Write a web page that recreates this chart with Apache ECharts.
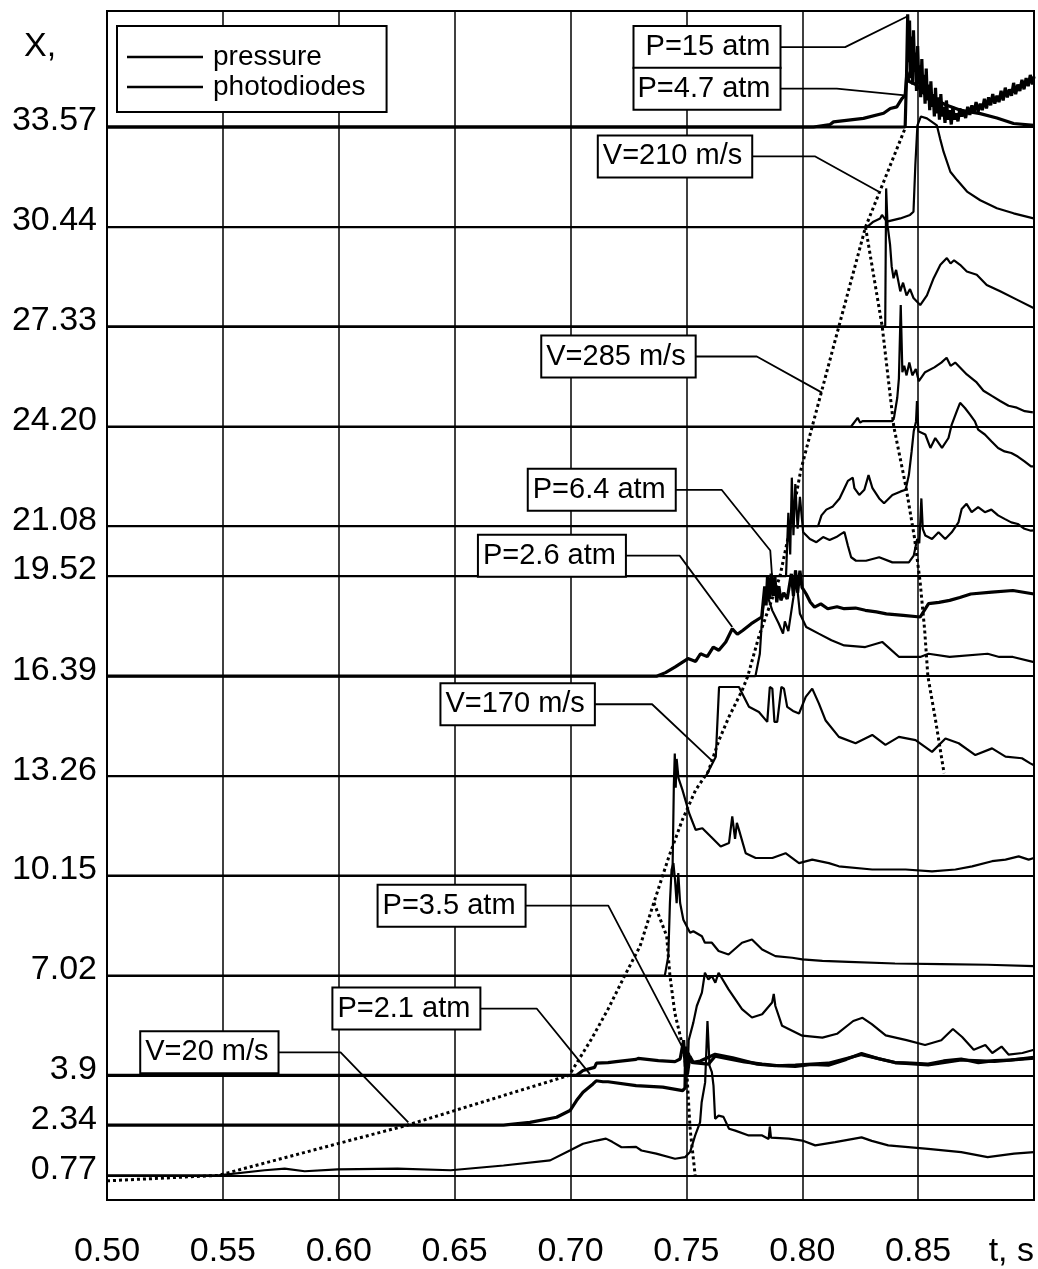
<!DOCTYPE html>
<html>
<head>
<meta charset="utf-8">
<script src="https://cdn.jsdelivr.net/npm/echarts@6/dist/echarts.min.js"></script>
<style>
  html, body { margin: 0; padding: 0; background: #fff; }
  #chart { width: 1038px; height: 1269px; }
</style>
</head>
<body>
<div id="chart"></div>
<script>
const FONT = "'Liberation Sans', Arial, sans-serif";

// sensor positions X (baselines) and their printed labels
const yLevels = [0.77, 2.34, 3.9, 7.02, 10.15, 13.26, 16.39, 19.52, 21.08, 24.20, 27.33, 30.44, 33.57];
const yLevelLabels = ['0.77', '2.34', '3.9', '7.02', '10.15', '13.26', '16.39', '19.52', '21.08', '24.20', '27.33', '30.44', '33.57'];

// pressure traces [t, X]
const p3357a = [[0.50,33.57],[0.8444,33.57],[0.8450,35.2],[0.8455,37.1],[0.8459,35.6],[0.8463,36.9],[0.8467,35.1],[0.8471,36.4],[0.8476,34.9],[0.8480,36.6],[0.8485,35.3],[0.8489,35.9],[0.8493,34.7],[0.8498,36.1],[0.8503,34.9],[0.8507,35.5],[0.8511,34.5],[0.8516,35.7],[0.8521,34.6],[0.8525,35.2],[0.8530,34.3],[0.8535,35.4],[0.8540,34.4],[0.8545,34.9],[0.8550,34.1],[0.8555,35.0],[0.8560,34.2],[0.8565,34.6],[0.8570,33.9],[0.8575,34.8],[0.8580,34.0],[0.8586,34.5],[0.8592,33.8],[0.8598,34.6],[0.8604,33.9],[0.8610,34.2],[0.8616,33.7],[0.8622,34.4],[0.8629,33.8],[0.8636,34.1],[0.8643,33.65],[0.8650,34.2],[0.8657,33.8],[0.8664,34.0],[0.8672,33.75],[0.8680,34.15],[0.8688,33.9],[0.8696,34.05],[0.8705,33.85],[0.8714,34.2],[0.8723,33.95],[0.8732,34.25],[0.8741,34.0],[0.8750,34.35],[0.8759,34.05],[0.8768,34.3],[0.8777,34.1],[0.8786,34.45],[0.8795,34.15],[0.8804,34.5],[0.8813,34.25],[0.8822,34.6],[0.8831,34.3],[0.8840,34.55],[0.8849,34.35],[0.8858,34.7],[0.8867,34.4],[0.8876,34.8],[0.8885,34.5],[0.8894,34.75],[0.8903,34.55],[0.8912,34.95],[0.8921,34.6],[0.8930,34.9],[0.8939,34.7],[0.8948,35.05],[0.8957,34.75],[0.8966,35.1],[0.8975,34.85],[0.8984,35.2],[0.8993,34.9],[0.90,35.15]];
const p3357b = [[0.50,33.57],[0.8048,33.57],[0.8120,33.65],[0.8135,33.73],[0.8264,33.84],[0.8351,34.0],[0.8380,34.15],[0.8408,34.2],[0.8430,34.46],[0.8444,34.56],[0.8452,35.3],[0.8460,35.0],[0.8490,34.9],[0.8530,34.6],[0.8580,34.4],[0.8624,34.25],[0.8680,34.1],[0.8768,33.99],[0.8840,33.85],[0.8912,33.68],[0.90,33.62]];
const p1639 = [[0.50,16.39],[0.7371,16.39],[0.7410,16.5],[0.7452,16.68],[0.7507,16.94],[0.7540,16.85],[0.7561,17.09],[0.7590,17.0],[0.7616,17.30],[0.7640,17.2],[0.7670,17.46],[0.7698,17.87],[0.7720,17.7],[0.7743,17.82],[0.7780,18.03],[0.7825,18.24],[0.7838,19.2],[0.7844,18.6],[0.7850,19.5],[0.7858,18.8],[0.7866,19.6],[0.7874,18.9],[0.7882,19.5],[0.7890,18.7],[0.7899,19.2],[0.7908,18.76],[0.7920,19.0],[0.7935,18.8],[0.7953,19.59],[0.7962,18.9],[0.7971,19.7],[0.7980,19.0],[0.7990,19.69],[0.7999,19.17],[0.8017,18.96],[0.8035,18.7],[0.8053,18.55],[0.8080,18.65],[0.8110,18.5],[0.8150,18.56],[0.8181,18.5],[0.8230,18.52],[0.8272,18.45],[0.8320,18.4],[0.8363,18.34],[0.8436,18.29],[0.8509,18.24],[0.8545,18.66],[0.8590,18.7],[0.8636,18.76],[0.8680,18.85],[0.8727,18.96],[0.8818,19.02],[0.8909,19.07],[0.90,18.96]];
const p39 = [[0.50,3.9],[0.7026,3.9],[0.7054,4.05],[0.7104,4.15],[0.7112,4.28],[0.7162,4.30],[0.7197,4.33],[0.7283,4.40],[0.7292,4.43],[0.7379,4.36],[0.7451,4.33],[0.7473,4.41],[0.7488,5.0],[0.7495,4.2],[0.7505,3.95],[0.7515,4.5],[0.7530,4.3],[0.7595,4.25],[0.7624,4.5],[0.7684,4.41],[0.7750,4.32],[0.7827,4.25],[0.7900,4.2],[0.7970,4.18],[0.8040,4.24],[0.8113,4.22],[0.8190,4.4],[0.8256,4.58],[0.8330,4.42],[0.8400,4.30],[0.8470,4.28],[0.8543,4.25],[0.8610,4.35],[0.8686,4.41],[0.8760,4.3],[0.8829,4.36],[0.8900,4.38],[0.90,4.46]];
const p234 = [[0.50,2.34],[0.6711,2.34],[0.6825,2.43],[0.6940,2.59],[0.6998,2.80],[0.7026,3.11],[0.7054,3.37],[0.7097,3.63],[0.7111,3.73],[0.7140,3.70],[0.7162,3.70],[0.7283,3.58],[0.7398,3.53],[0.7484,3.42],[0.7494,3.50],[0.7497,4.80],[0.7502,4.00],[0.7508,4.60],[0.7523,4.30],[0.7560,4.35],[0.7624,4.56],[0.7700,4.45],[0.7806,4.25],[0.7884,4.20],[0.7970,4.22],[0.8113,4.28],[0.8256,4.55],[0.8400,4.30],[0.8543,4.23],[0.8686,4.38],[0.8829,4.34],[0.90,4.44]];

// photodiode traces [t, X]
const pd3044 = [[0.50,30.44],[0.8279,30.44],[0.8307,30.61],[0.8336,30.71],[0.8344,30.82],[0.8365,30.61],[0.8423,30.71],[0.8465,30.82],[0.8480,30.92],[0.8488,32.38],[0.8497,33.62],[0.8512,33.90],[0.8538,33.84],[0.8581,33.62],[0.8595,33.20],[0.8610,32.79],[0.8639,32.17],[0.8668,31.91],[0.8711,31.55],[0.8768,31.28],[0.8840,31.03],[0.8912,30.87],[0.8998,30.71]];
const pd2733 = [[0.50,27.33],[0.8358,27.33],[0.8362,31.65],[0.8368,30.5],[0.8379,29.88],[0.8386,29.2],[0.8394,28.84],[0.8405,29.1],[0.8423,28.43],[0.8435,28.7],[0.8450,28.3],[0.8465,28.5],[0.8480,28.22],[0.8509,28.0],[0.8538,28.3],[0.8567,28.84],[0.8596,29.26],[0.8624,29.47],[0.8640,29.3],[0.8655,29.4],[0.8681,29.26],[0.8710,29.05],[0.8753,28.95],[0.8796,28.63],[0.8854,28.43],[0.8926,28.17],[0.8998,27.91]];
const pd2420 = [[0.50,24.20],[0.8211,24.20],[0.8239,24.47],[0.8250,24.32],[0.8260,24.37],[0.8389,24.37],[0.8396,24.48],[0.8410,25.10],[0.8417,25.70],[0.8425,28.0],[0.8432,25.9],[0.8440,26.1],[0.8450,25.8],[0.8462,26.2],[0.8475,25.8],[0.8490,26.0],[0.8503,25.62],[0.8530,25.9],[0.8570,26.05],[0.8600,26.2],[0.8623,26.35],[0.8640,26.1],[0.8660,26.2],[0.8710,25.83],[0.8750,25.6],[0.8782,25.32],[0.8820,25.15],[0.8854,25.0],[0.8890,24.85],[0.8926,24.79],[0.8960,24.68],[0.8995,24.64]];
const pd2108 = [[0.50,21.08],[0.8068,21.08],[0.8083,21.42],[0.8104,21.6],[0.8132,21.7],[0.8161,21.95],[0.8182,22.27],[0.8197,22.5],[0.8218,22.6],[0.8225,22.27],[0.8246,22.06],[0.8268,22.22],[0.8286,22.68],[0.8303,22.27],[0.8332,21.95],[0.8353,21.8],[0.8389,22.06],[0.8425,22.17],[0.8446,22.22],[0.8460,22.68],[0.8472,23.42],[0.8481,24.05],[0.8491,24.36],[0.8495,25.0],[0.8501,24.05],[0.8531,23.95],[0.8553,23.53],[0.8574,23.84],[0.8603,23.53],[0.8631,23.84],[0.8645,24.26],[0.8667,24.68],[0.8681,24.94],[0.8702,24.78],[0.8724,24.57],[0.8745,24.36],[0.8759,24.10],[0.8788,23.95],[0.8816,23.74],[0.8845,23.53],[0.8873,23.42],[0.8902,23.37],[0.8930,23.26],[0.8959,23.11],[0.8987,22.95],[0.90,22.95]];
const pd1952 = [[0.50,19.52],[0.7930,19.52],[0.7940,21.5],[0.7948,20.2],[0.7955,22.6],[0.7962,20.8],[0.7970,22.4],[0.7980,21.0],[0.7990,22.0],[0.8004,20.89],[0.8033,20.68],[0.8061,20.58],[0.8090,20.74],[0.8118,20.65],[0.8147,20.74],[0.8168,20.84],[0.8182,20.90],[0.8197,20.47],[0.8211,20.11],[0.8232,20.0],[0.8275,20.0],[0.8332,20.11],[0.8389,19.95],[0.8460,19.95],[0.8481,20.16],[0.8496,20.68],[0.8505,20.55],[0.8514,21.95],[0.8520,21.0],[0.8531,20.79],[0.8560,20.68],[0.8588,20.89],[0.8617,20.68],[0.8645,20.89],[0.8674,21.20],[0.8688,21.62],[0.8709,21.78],[0.8731,21.52],[0.8759,21.68],[0.8788,21.52],[0.8816,21.6],[0.8845,21.42],[0.8873,21.31],[0.8902,21.20],[0.8930,21.15],[0.8959,21.0],[0.8987,20.94],[0.90,20.95]];
const pd1639 = [[0.50,16.39],[0.7798,16.39],[0.7817,17.09],[0.7826,18.13],[0.7838,18.96],[0.7850,18.9],[0.7871,18.44],[0.7899,18.03],[0.7917,17.72],[0.7925,18.1],[0.7940,17.8],[0.7962,18.86],[0.7971,19.69],[0.7990,18.34],[0.8017,17.93],[0.8071,17.72],[0.8126,17.51],[0.8181,17.35],[0.8272,17.30],[0.8345,17.46],[0.8418,16.99],[0.8509,16.99],[0.8545,17.09],[0.8636,16.99],[0.8800,17.09],[0.8850,16.99],[0.8909,16.99],[0.90,16.83]];
const pd1326 = [[0.50,13.26],[0.7584,13.26],[0.7627,13.87],[0.7641,16.05],[0.7727,16.05],[0.7741,15.85],[0.7770,15.43],[0.7813,15.27],[0.7849,14.96],[0.7860,16.05],[0.7871,16.0],[0.7880,14.96],[0.7892,14.96],[0.7910,16.05],[0.7921,16.0],[0.7935,15.43],[0.7960,15.3],[0.7986,15.22],[0.8015,15.74],[0.8043,16.0],[0.8072,15.53],[0.8101,15.0],[0.8158,14.49],[0.8230,14.29],[0.8302,14.55],[0.8359,14.24],[0.8417,14.49],[0.8489,14.39],[0.8560,14.02],[0.8618,14.44],[0.8675,14.29],[0.8747,13.92],[0.8819,14.13],[0.8877,13.87],[0.8948,13.82],[0.8984,13.66],[0.90,13.6]];
const pd1015 = [[0.50,10.15],[0.7440,10.15],[0.7446,13.0],[0.7450,13.97],[0.7454,12.9],[0.7458,13.8],[0.7466,13.2],[0.7483,12.83],[0.7512,12.10],[0.7540,11.58],[0.7569,11.63],[0.7605,11.37],[0.7648,11.06],[0.7684,11.17],[0.7698,12.00],[0.7710,11.3],[0.7718,11.8],[0.7727,11.58],[0.7756,10.85],[0.7799,10.70],[0.7871,10.70],[0.7928,10.85],[0.7986,10.54],[0.8043,10.65],[0.8115,10.54],[0.8158,10.44],[0.8302,10.34],[0.8446,10.34],[0.8560,10.28],[0.8661,10.34],[0.8733,10.44],[0.8819,10.60],[0.8877,10.65],[0.8934,10.75],[0.8977,10.65],[0.90,10.7]];
const pd702 = [[0.50,7.02],[0.7407,7.02],[0.7422,7.63],[0.7429,9.29],[0.7436,10.33],[0.7444,10.54],[0.7451,10.02],[0.7458,9.29],[0.7465,10.23],[0.7473,9.29],[0.7487,8.77],[0.7501,8.57],[0.7516,8.36],[0.7530,8.41],[0.7567,8.25],[0.7580,8.05],[0.7610,8.05],[0.7639,7.79],[0.7682,7.68],[0.7740,8.05],[0.7783,8.15],[0.7827,7.84],[0.7884,7.63],[0.7957,7.58],[0.80,7.53],[0.8087,7.48],[0.82,7.45],[0.84,7.40],[0.86,7.38],[0.88,7.36],[0.90,7.32]];
const pd39 = [[0.50,3.9],[0.7505,3.9],[0.7510,5.0],[0.7530,5.55],[0.7545,6.07],[0.7567,6.49],[0.7580,7.11],[0.7595,6.90],[0.7610,7.01],[0.7625,6.80],[0.7639,7.11],[0.7682,6.59],[0.7740,5.97],[0.7783,5.71],[0.7827,5.81],[0.7870,6.18],[0.7877,6.45],[0.7884,6.07],[0.7913,5.45],[0.80,5.14],[0.8087,5.08],[0.815,5.2],[0.822,5.6],[0.826,5.7],[0.830,5.5],[0.836,5.15],[0.845,5.0],[0.853,4.85],[0.860,5.0],[0.865,5.35],[0.869,5.1],[0.874,4.7],[0.879,4.85],[0.882,4.6],[0.886,4.8],[0.889,4.55],[0.895,4.6],[0.90,4.7]];
const pd077 = [[0.50,0.77],[0.548,0.77],[0.568,0.93],[0.5767,0.98],[0.5853,0.90],[0.5996,0.96],[0.6254,0.98],[0.6483,0.93],[0.6711,1.08],[0.6912,1.24],[0.6997,1.55],[0.7054,1.76],[0.7112,1.86],[0.7153,1.92],[0.718,1.82],[0.722,1.65],[0.7283,1.66],[0.7306,1.55],[0.737,1.45],[0.7451,1.29],[0.7494,1.34],[0.7516,1.5],[0.7538,2.02],[0.7559,2.43],[0.7566,3.06],[0.7581,3.68],[0.7591,5.6],[0.7600,4.2],[0.7610,4.0],[0.7617,3.58],[0.7624,2.54],[0.7639,2.64],[0.7660,2.6],[0.7684,2.23],[0.7711,2.17],[0.7769,2.02],[0.7827,2.02],[0.7855,1.91],[0.7860,2.3],[0.7865,1.95],[0.7942,1.92],[0.80,1.86],[0.8056,1.71],[0.8142,1.81],[0.8256,1.96],[0.8300,1.85],[0.8371,1.71],[0.8543,1.60],[0.8686,1.50],[0.88,1.34],[0.8914,1.45],[0.90,1.50]];

// flame/shock front (dotted)
const frontA = [[0.500,0.60],[0.548,0.77],[0.6295,2.34],[0.6994,3.90],[0.7090,5.03],[0.7162,5.97],[0.7234,7.02],[0.7300,7.94],[0.7355,9.20],[0.7425,10.75],[0.7483,11.90],[0.7540,12.83],[0.7594,13.40],[0.7641,14.39],[0.7684,15.12],[0.7741,15.95],[0.7765,16.39],[0.7812,17.61],[0.7903,19.49],[0.7948,21.04],[0.7993,22.81],[0.8043,24.20],[0.8158,27.33],[0.8273,30.44],[0.8446,33.57]];
const frontB = [[0.8273,30.44],[0.8345,27.33],[0.8395,24.20],[0.8448,22.29],[0.8484,20.73],[0.8508,19.38],[0.8528,17.85],[0.8542,16.39],[0.8575,15.02],[0.8612,13.35]];
const frontC = [[0.7360,9.30],[0.7415,8.26],[0.7429,7.02],[0.7450,5.86],[0.7480,4.93],[0.7501,4.10],[0.7516,2.23],[0.7538,0.77]];

// callouts: text and leader path (first point = box anchor)
const noteTexts = ['P=15 atm', 'P=4.7 atm', 'V=210 m/s', 'V=285 m/s', 'P=6.4 atm', 'P=2.6 atm', 'V=170 m/s', 'P=3.5 atm', 'P=2.1 atm', 'V=20 m/s'];
const notePaths = [
  [[0.7904,36.07],[0.8185,36.07],[0.8459,37.05]],
  [[0.7904,34.77],[0.8149,34.77],[0.8444,34.56]],
  [[0.7782,32.65],[0.8056,32.65],[0.8329,31.55]],
  [[0.7538,26.39],[0.7804,26.39],[0.8085,25.26]],
  [[0.7452,22.22],[0.7652,22.22],[0.7862,20.32],[0.7870,19.49]],
  [[0.7237,20.16],[0.7471,20.16],[0.7698,17.93]],
  [[0.7103,15.51],[0.7352,15.51],[0.7616,13.71]],
  [[0.6804,9.21],[0.7163,9.21],[0.7487,4.72]],
  [[0.6609,5.99],[0.6854,5.99],[0.7084,3.94]],
  [[0.5738,4.62],[0.6008,4.62],[0.6300,2.43]]
];

const pressureTraces = [p3357a, p1639, p39, p234, p3357b];
const photoTraces = [pd3044, pd2733, pd2420, pd2108, pd1952, pd1639, pd1326, pd1015, pd702, pd39, pd077];
const fronts = [frontA, frontB, frontC];

const series = [];
pressureTraces.forEach((d) => {
  series.push({
    name: 'pressure', type: 'line', data: d, symbol: 'none', z: 3,
    lineStyle: { color: '#000', width: 3.2 }, itemStyle: { color: '#000' }
  });
});
photoTraces.forEach((d) => {
  series.push({
    name: 'photodiodes', type: 'line', data: d, symbol: 'none', z: 3,
    lineStyle: { color: '#000', width: 2.2 }, itemStyle: { color: '#000' }
  });
});
fronts.forEach((d) => {
  series.push({
    name: 'front', type: 'line', data: d, symbol: 'none', z: 3,
    lineStyle: { color: '#000', width: 3, type: [3, 3] }
  });
});
notePaths.forEach((d) => {
  series.push({
    name: 'leader', type: 'line', data: d, symbol: 'none', z: 4, silent: true,
    lineStyle: { color: '#000', width: 1.8 }
  });
});
series.push({
  name: 'notes', type: 'scatter', symbolSize: 1, z: 5, silent: true,
  itemStyle: { color: '#000', opacity: 1 },
  data: notePaths.map((p, i) => ({
    value: p[0],
    label: { formatter: noteTexts[i], width: i < 2 ? 132 : null }
  })),
  label: {
    show: true, position: 'left', distance: 0,
    fontFamily: FONT, fontSize: 29, color: '#000', lineHeight: 31,
    backgroundColor: '#fff', borderColor: '#000', borderWidth: 2,
    padding: [5, 9, 4, 4]
  }
});

const chart = echarts.init(document.getElementById('chart'));
chart.setOption({
  animation: false,
  backgroundColor: '#fff',
  title: {
    text: 'X,', left: 24, top: 30, padding: 0,
    textStyle: { fontFamily: FONT, fontSize: 34, fontWeight: 'normal', color: '#000' }
  },
  legend: {
    data: [
      { name: 'pressure', icon: 'rect' },
      { name: 'photodiodes', icon: 'rect' }
    ],
    orient: 'vertical', left: 117, top: 26,
    padding: [16, 21, 10, 10], itemGap: 0, itemWidth: 76, itemHeight: 2.5,
    backgroundColor: '#fff', borderColor: '#000', borderWidth: 2,
    selectedMode: false,
    textStyle: { fontFamily: FONT, fontSize: 28, color: '#000', lineHeight: 30, padding: [0, 0, 0, 5] }
  },
  grid: {
    left: 107, right: 4, top: 11, bottom: 64,
    show: true, borderColor: '#000', borderWidth: 2
  },
  xAxis: {
    type: 'value', min: 0.5, max: 0.9, interval: 0.05,
    axisLine: { show: false }, axisTick: { show: false },
    splitLine: { show: true, lineStyle: { color: '#000', width: 1.5 } },
    axisLabel: {
      fontFamily: FONT, fontSize: 34, color: '#000', margin: 35, lineHeight: 34,
      alignMaxLabel: 'right',
      formatter: (v) => (Math.abs(v - 0.9) < 1e-6 ? 't, s' : v.toFixed(2))
    }
  },
  yAxis: {
    type: 'value', min: 0, max: 37.2,
    axisLine: { show: false },
    axisTick: { show: false, customValues: yLevels },
    splitLine: { show: true, lineStyle: { color: '#000', width: 2 } },
    axisLabel: {
      customValues: yLevels,
      fontFamily: FONT, fontSize: 34, color: '#000', margin: 10,
      verticalAlign: 'bottom', lineHeight: 12,
      formatter: (v) => {
        const i = yLevels.findIndex((l) => Math.abs(l - v) < 1e-6);
        return i >= 0 ? yLevelLabels[i] : '';
      }
    }
  },
  series: series
});
</script>
</body>
</html>
